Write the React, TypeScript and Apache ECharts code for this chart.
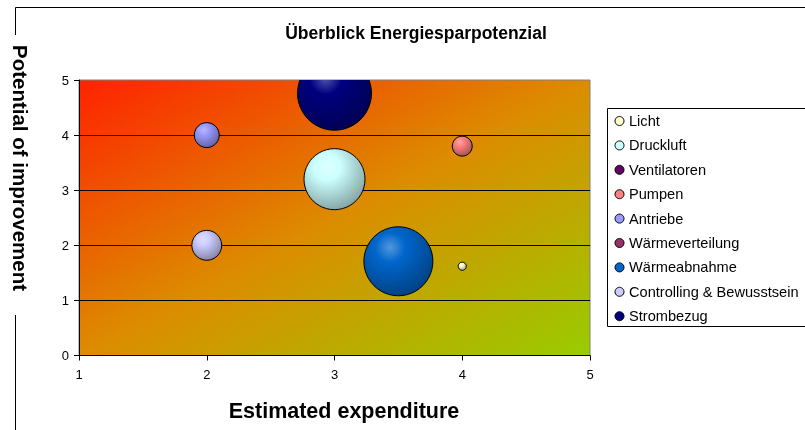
import React, { useEffect, useRef } from "react";
import * as echarts from "echarts";

const categories = [
  "Licht",
  "Druckluft",
  "Ventilatoren",
  "Pumpen",
  "Antriebe",
  "Wärmeverteilung",
  "Wärmeabnahme",
  "Controlling & Bewusstsein",
  "Strombezug",
];
const xValues: (number | null)[] = [4, 3, null, 4, 2, null, 3.5, 2, 3];
const yValues: (number | null)[] = [1.62, 3.2, null, 3.8, 4.0, null, 1.71, 2.0, 4.76];
const bubbleSizes: (number | null)[] = [1.2, 68, null, 7.3, 11.4, null, 87, 16.4, 100];
const colors = [
  "#ffffcc",
  "#ccffff",
  "#660066",
  "#ff8080",
  "#9999ff",
  "#993366",
  "#0066cc",
  "#ccccff",
  "#000080",
];
const xAxisMin = 1;
const xAxisMax = 5;
const yAxisMin = 0;
const yAxisMax = 5;

const titleText = "Überblick Energiesparpotenzial";
const xName = "Estimated expenditure";
const yName = "Potential of improvement";

const FONT = "'Liberation Sans', Arial, sans-serif";

function shade(hex: string, f: number): string {
  const n = parseInt(hex.slice(1), 16);
  let r = (n >> 16) & 255,
    g = (n >> 8) & 255,
    b = n & 255;
  if (f >= 0) {
    r = r + (255 - r) * f;
    g = g + (255 - g) * f;
    b = b + (255 - b) * f;
  } else {
    r = r * (1 + f);
    g = g * (1 + f);
    b = b * (1 + f);
  }
  const h = (v: number) => Math.round(v).toString(16).padStart(2, "0");
  return "#" + h(r) + h(g) + h(b);
}

export default function App() {
  const ref = useRef<HTMLDivElement>(null);
  useEffect(() => {
    if (!ref.current) return;
    const chart = echarts.init(ref.current, undefined, { renderer: "svg" });

    const series = categories.map((name, i) => {
      const hasData = xValues[i] !== null && yValues[i] !== null && bubbleSizes[i] !== null;
      const base = colors[i];
      return {
        name,
        type: "custom",
        clip: true,
        encode: { x: 0, y: 1 },
        data: hasData ? [[xValues[i], yValues[i], bubbleSizes[i]]] : [],
        itemStyle: { color: base },
        renderItem: (params: any, api: any) => {
          const p = api.coord([api.value(0), api.value(1)]);
          const r = 37 * Math.sqrt(api.value(2) / 100);
          return {
            type: "circle",
            shape: { cx: p[0], cy: p[1], r },
            style: {
              fill: new echarts.graphic.RadialGradient(0.38, 0.3, 0.72, [
                { offset: 0, color: shade(base, 0.32) },
                { offset: 0.3, color: base },
                { offset: 1, color: shade(base, -0.35) },
              ]),
              stroke: "#000",
              lineWidth: 1,
            },
          };
        },
        emphasis: { disabled: true },
      };
    });

    chart.setOption({
      animation: false,
      textStyle: { fontFamily: FONT },
      grid: {
        left: 79,
        right: 215,
        top: 80,
        bottom: 74.5,
        show: true,
        borderColor: "#808080",
        borderWidth: 1,
        backgroundColor: new echarts.graphic.LinearGradient(0, 0, 1, 1, [
          { offset: 0, color: "#ff2200" },
          { offset: 0.5, color: "#dc8c00" },
          { offset: 1, color: "#99cc00" },
        ]),
      },
      xAxis: {
        type: "value",
        min: xAxisMin,
        max: xAxisMax,
        interval: 1,
        axisLine: { show: true, lineStyle: { color: "#000", width: 1 } },
        axisTick: { show: true, length: 5, lineStyle: { color: "#000" } },
        axisLabel: { color: "#000", fontSize: 13, margin: 12, fontFamily: FONT },
        splitLine: { show: false },
      },
      yAxis: {
        type: "value",
        min: yAxisMin,
        max: yAxisMax,
        interval: 1,
        axisLine: { show: true, lineStyle: { color: "#000", width: 1 } },
        axisTick: { show: true, length: 5, lineStyle: { color: "#000" } },
        axisLabel: { color: "#000", fontSize: 13, margin: 10, fontFamily: FONT },
        splitLine: {
          show: true,
          showMaxLine: false,
          lineStyle: { color: "#000", width: 1 },
        },
      },
      legend: {
        orient: "vertical",
        left: 607,
        top: 108,
        padding: [5, 0, 3, 7.5],
        itemGap: 8.4,
        itemWidth: 9,
        itemHeight: 9,
        icon: "circle",
        borderWidth: 0,
        textStyle: { color: "#000", fontSize: 14.6, lineHeight: 16, fontFamily: FONT },
        data: categories.map((name, i) => ({
          name,
          icon: "circle",
          itemStyle: { color: colors[i], borderColor: "#000", borderWidth: 1 },
        })),
      },
      graphic: [
        {
          type: "rect",
          z: -1,
          shape: { x: 607.5, y: 108.5, width: 240, height: 218 },
          style: { fill: "#fff", stroke: "#000", lineWidth: 1 },
        },
        {
          type: "line",
          shape: { x1: 15.5, y1: 7.5, x2: 810, y2: 7.5 },
          style: { stroke: "#000", lineWidth: 1 },
        },
        {
          type: "line",
          shape: { x1: 15.5, y1: 7.5, x2: 15.5, y2: 35 },
          style: { stroke: "#000", lineWidth: 1 },
        },
        {
          type: "line",
          shape: { x1: 15.5, y1: 315, x2: 15.5, y2: 431 },
          style: { stroke: "#000", lineWidth: 1 },
        },
        {
          type: "text",
          x: 416,
          y: 33,
          style: {
            text: titleText,
            fontSize: 17.5,
            fontWeight: "bold",
            fontFamily: FONT,
            fill: "#000",
            align: "center",
            verticalAlign: "middle",
          },
        },
        {
          type: "text",
          x: 344,
          y: 411,
          style: {
            text: xName,
            fontSize: 21.5,
            fontWeight: "bold",
            fontFamily: FONT,
            fill: "#000",
            align: "center",
            verticalAlign: "middle",
          },
        },
        {
          type: "text",
          x: 20,
          y: 168,
          rotation: -Math.PI / 2,
          style: {
            text: yName,
            fontSize: 20.5,
            fontWeight: "bold",
            fontFamily: FONT,
            fill: "#000",
            align: "center",
            verticalAlign: "middle",
          },
        },
      ],
      series,
    });

    return () => chart.dispose();
  }, []);

  return (
    <div
      ref={ref}
      style={{ position: "fixed", left: 0, top: 0, width: 805, height: 430 }}
    />
  );
}
